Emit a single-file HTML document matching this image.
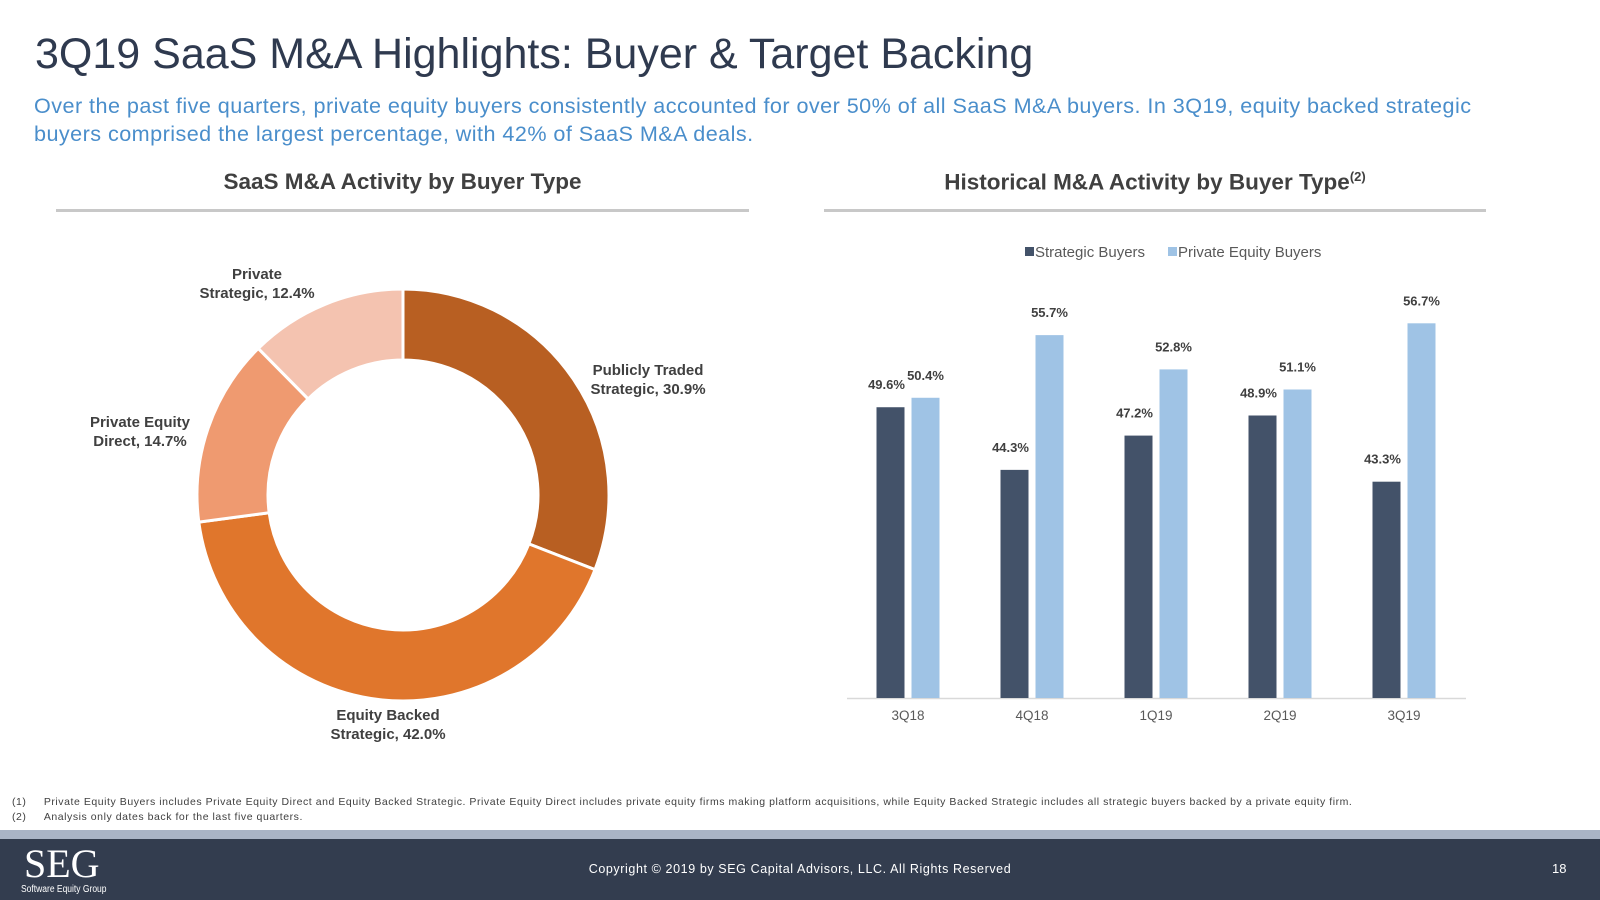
<!DOCTYPE html>
<html><head><meta charset="utf-8">
<style>
body{margin:0;width:1600px;height:900px;overflow:hidden;background:#fff;font-family:"Liberation Sans",Arial,sans-serif;position:relative}
.abs{position:absolute}
h1{position:absolute;left:35px;top:30px;margin:0;font-size:43px;font-weight:normal;color:#2f3a4f;white-space:nowrap}
.sub{left:34px;top:92px;width:1500px;font-size:21.6px;letter-spacing:0.45px;line-height:28px;color:#4a8ecb}
.hdr{font-size:22.5px;font-weight:bold;color:#404040;text-align:center;white-space:nowrap}
.rule{height:3px;background:#c8c8c8}
.lbl{font-size:15px;font-weight:bold;color:#404040;text-align:center;line-height:19px;width:200px}
</style></head><body>
<h1>3Q19 SaaS M&amp;A Highlights: Buyer &amp; Target Backing</h1>
<div class="abs sub">Over the past five quarters, private equity buyers consistently accounted for over 50% of all SaaS M&amp;A buyers. In 3Q19, equity backed strategic buyers comprised the largest percentage, with 42% of SaaS M&amp;A deals.</div>
<div class="abs hdr" style="left:56px;top:169px;width:693px">SaaS M&amp;A Activity by Buyer Type</div>
<div class="abs rule" style="left:56px;top:209px;width:693px"></div>
<div class="abs hdr" style="left:824px;top:169px;width:662px">Historical M&amp;A Activity by Buyer Type<sup style="font-size:13px">(2)</sup></div>
<div class="abs rule" style="left:824px;top:209px;width:662px"></div>

<svg class="abs" style="left:0;top:0" width="1600" height="900" id="charts"></svg>

<div class="abs lbl" style="left:157px;top:265px">Private<br>Strategic, 12.4%</div>
<div class="abs lbl" style="left:548px;top:361px">Publicly Traded<br>Strategic, 30.9%</div>
<div class="abs lbl" style="left:40px;top:413px">Private Equity<br>Direct, 14.7%</div>
<div class="abs lbl" style="left:288px;top:706px">Equity Backed<br>Strategic, 42.0%</div>

<div class="abs" style="left:12px;top:795px;font-size:10.5px;letter-spacing:0.55px;color:#404040;line-height:15px;white-space:nowrap">
<div>(1)&nbsp;&nbsp;&nbsp;&nbsp;&nbsp;Private Equity Buyers includes Private Equity Direct and Equity Backed Strategic. Private Equity Direct includes private equity firms making platform acquisitions, while Equity Backed Strategic includes all strategic buyers backed by a private equity firm.</div>
<div>(2)&nbsp;&nbsp;&nbsp;&nbsp;&nbsp;Analysis only dates back for the last five quarters.</div>
</div>
<div class="abs" style="left:0;top:830px;width:1600px;height:9px;background:#a9b4c6"></div>
<div class="abs" style="left:0;top:839px;width:1600px;height:61px;background:#333d4f">
<div class="abs" style="left:24px;top:1px;font-family:'Liberation Serif',serif;font-size:40px;color:#fff">SEG</div>
<div class="abs" style="left:21px;top:45px;font-size:10px;color:#fff;transform:scaleX(0.85);transform-origin:left">Software Equity Group</div>
<div class="abs" style="left:0;width:1600px;top:23px;text-align:center;font-size:12.5px;letter-spacing:0.6px;color:#fff">Copyright © 2019 by SEG Capital Advisors, LLC. All Rights Reserved</div>
<div class="abs" style="left:1552px;top:22px;font-size:13px;color:#fff">18</div>
</div>

<script>
const sliceNames=["Publicly Traded Strategic","Equity Backed Strategic","Private Equity Direct","Private Strategic"];
const sliceValues=[30.9,42.0,14.7,12.4];
const sliceColors=["#b85f22","#e0762c","#ef9a70","#f4c3b0"];
const categories=["3Q18","4Q18","1Q19","2Q19","3Q19"];
const strategic=[49.6,44.3,47.2,48.9,43.3];
const privateEquity=[50.4,55.7,52.8,51.1,56.7];
const NS="http://www.w3.org/2000/svg";
const svg=document.getElementById('charts');
function mk(t,a,p){const e=document.createElementNS(NS,t);for(const k in a)e.setAttribute(k,a[k]);(p||svg).appendChild(e);return e;}
const cx=403,cy=495,R=206,r=135;
const tot=sliceValues.reduce((a,b)=>a+b,0);
let ang=-Math.PI/2;
sliceValues.forEach((v,i)=>{
 const a0=ang,a1=ang+v/tot*2*Math.PI;ang=a1;
 const lg=(a1-a0)>Math.PI?1:0;
 const p=(rr,a)=>[cx+rr*Math.cos(a),cy+rr*Math.sin(a)];
 const [x0,y0]=p(R,a0),[x1,y1]=p(R,a1),[x2,y2]=p(r,a1),[x3,y3]=p(r,a0);
 const e=mk('path',{d:`M${x0},${y0}A${R},${R} 0 ${lg} 1 ${x1},${y1}L${x2},${y2}A${r},${r} 0 ${lg} 0 ${x3},${y3}Z`,fill:sliceColors[i],stroke:'#fff','stroke-width':3});
 
 
});
const base=698,yMin=25,pxPer=11.82,x0=908,step=124,bw=28,gap=7;
const y=v=>base-(v-yMin)*pxPer;
const ax=mk('line',{x1:847,x2:1466,y1:base+0.5,y2:base+0.5,stroke:'#d9d9d9','stroke-width':1.5});


categories.forEach((c,i)=>{
 const cxb=x0+i*step;
 [[strategic[i],'#435269',cxb-gap/2-bw,'strategic',-4],[privateEquity[i],'#9fc3e5',cxb+gap/2,'private-equity',0]].forEach(([v,col,bx,nm,dx])=>{
  const b=mk('rect',{x:bx,y:y(v),width:bw,height:base-y(v),fill:col});
  
  
  const t=mk('text',{x:bx+bw/2+dx,y:y(v)-18,'text-anchor':'middle','font-size':13,'font-weight':'bold',fill:'#404040','font-family':'Liberation Sans'});
  t.textContent=v.toFixed(1)+'%';
  
  
 });
 const t=mk('text',{x:cxb,y:720,'text-anchor':'middle','font-size':13.5,fill:'#595959','font-family':'Liberation Sans'});
 t.textContent=c;
 
 
});
[[1025,'#435269','Strategic Buyers'],[1168,'#9fc3e5','Private Equity Buyers']].forEach(([lx,col,txt],i)=>{
 const g=mk('g',{});
 
 
 mk('rect',{x:lx,y:247,width:9,height:9,fill:col},g);
 const t=mk('text',{x:lx+10,y:257,'font-size':15,fill:'#595959','font-family':'Liberation Sans'},g);
 t.textContent=txt;
});
</script>
</body></html>
